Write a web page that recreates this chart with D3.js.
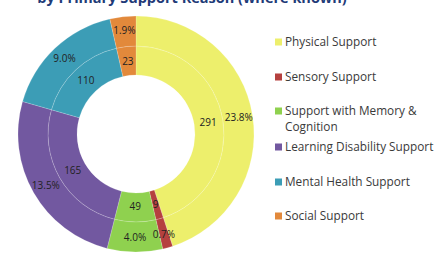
<!DOCTYPE html>
<html>
<head>
<meta charset="utf-8">
<script src="https://cdn.jsdelivr.net/npm/d3@7"></script>
<style>
  body { margin: 0; background: #fff; }
  svg { display: block; }
</style>
</head>
<body>
<div id="chart"></div>
<script>
// data
const categories = [
    "Physical Support",
    "Sensory Support",
    "Support with Memory & Cognition",
    "Learning Disability Support",
    "Mental Health Support",
    "Social Support"
];
const counts = [291, 9, 49, 165, 110, 23];
const percents = ["23.8%", "0.7%", "4.0%", "13.5%", "9.0%", "1.9%"];
const legendLines = [
    ["Physical Support"],
    ["Sensory Support"],
    ["Support with Memory &", "Cognition"],
    ["Learning Disability Support"],
    ["Mental Health Support"],
    ["Social Support"]
];
const colors = ["#edef6c", "#b5413f", "#8fd14f", "#7258a0", "#3c9db6", "#e2893b"];

const width = 442, height = 258;
const cx = 136, cy = 134;
const rInner = 59, rMid = 88, rOuter = 118;

const svg = d3.select("#chart")
    .append("svg")
        .attr("width", width)
        .attr("height", height);

// title, cut off at the top edge as in the source
svg.append("text")
    .attr("x", 192)
    .attr("y", 3)
    .attr("text-anchor", "middle")
    .attr("font-family", "Open Sans, sans-serif")
    .attr("font-weight", "bold")
    .attr("font-size", 14.5)
    .attr("fill", "#1f3b78")
    .text("by Primary Support Reason (where known)");

const pie = d3.pie()
    .sort(null)
    .value(d => d);

const arcs = pie(counts);

const g = svg.append("g")
    .attr("transform", "translate(" + cx + "," + cy + ")");

const innerArc = d3.arc().innerRadius(rInner).outerRadius(rMid);
const outerArc = d3.arc().innerRadius(rMid).outerRadius(rOuter);

// both rings
[innerArc, outerArc].forEach(arc => {
    g.append("g")
        .selectAll("path")
        .data(arcs)
        .enter()
        .append("path")
            .attr("d", arc)
            .attr("fill", (d, i) => colors[i])
            .attr("stroke", "rgba(255,255,255,0.25)")
            .attr("stroke-width", 0.7);
});

const countLabel = d3.arc().innerRadius(73).outerRadius(73);
const pctLabel = d3.arc().innerRadius(104).outerRadius(104);

g.append("g")
    .selectAll("text")
    .data(arcs)
    .enter()
    .append("text")
        .attr("transform", d => "translate(" + countLabel.centroid(d) + ")")
        .attr("text-anchor", "middle")
        .attr("dy", "0.35em")
        .attr("font-family", "Open Sans, sans-serif")
        .attr("font-size", 10)
        .attr("fill", "#222")
        .text((d, i) => counts[i]);

g.append("g")
    .selectAll("text")
    .data(arcs)
    .enter()
    .append("text")
        .attr("transform", d => "translate(" + pctLabel.centroid(d) + ")")
        .attr("text-anchor", "middle")
        .attr("dy", "0.35em")
        .attr("font-family", "Open Sans, sans-serif")
        .attr("font-size", 10)
        .attr("fill", "#222")
        .text((d, i) => percents[i]);

// legend
const legendY = [42, 77, 111, 147, 182, 216];
const legend = svg.append("g")
    .selectAll("g")
    .data(categories)
    .enter()
    .append("g")
        .attr("transform", (d, i) => "translate(275," + legendY[i] + ")");

legend.append("rect")
    .attr("x", 0)
    .attr("y", -3.5)
    .attr("width", 7)
    .attr("height", 7)
    .attr("fill", (d, i) => colors[i]);

legend.append("text")
    .attr("x", 10)
    .attr("font-family", "Open Sans, sans-serif")
    .attr("font-size", 11.8)
    .attr("fill", "#3a3a3a")
    .selectAll("tspan")
    .data((d, i) => legendLines[i])
    .enter()
    .append("tspan")
        .attr("x", 10)
        .attr("y", (d, j) => j * 16)
        .attr("dy", "0.35em")
        .text(d => d);
</script>
</body>
</html>
